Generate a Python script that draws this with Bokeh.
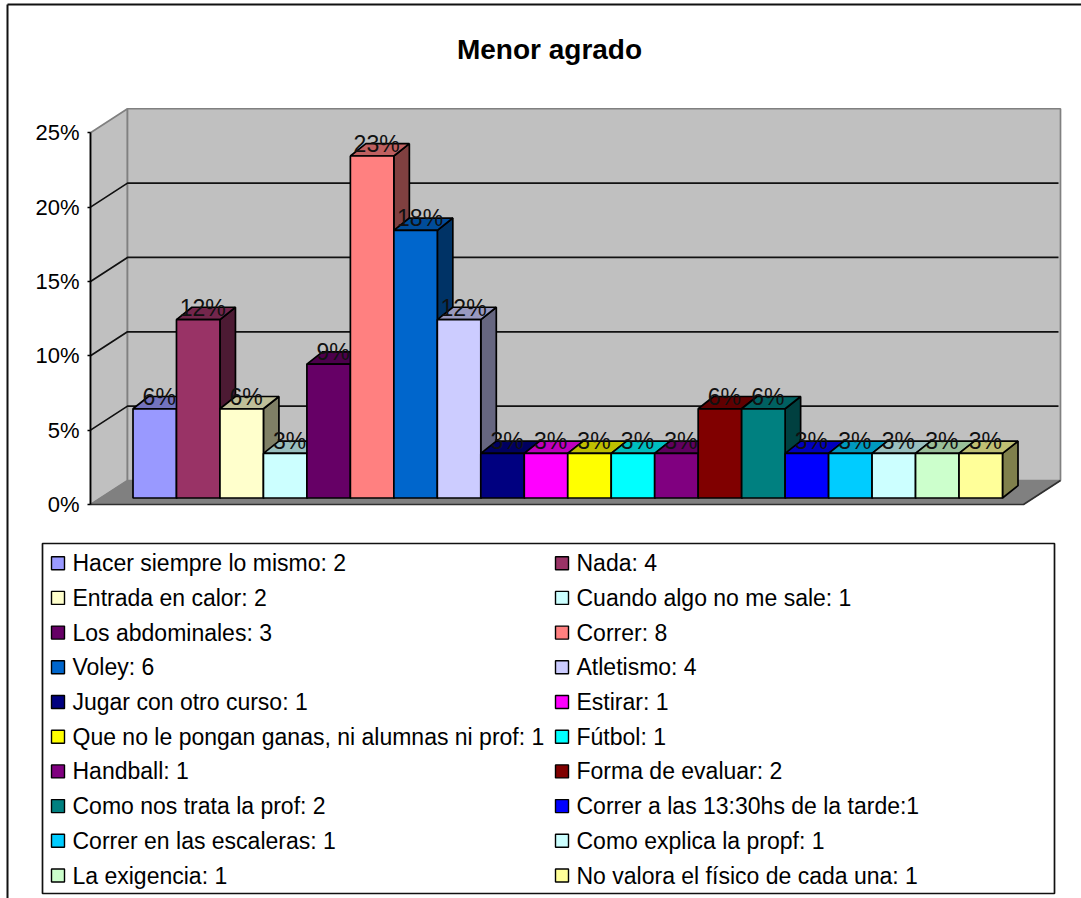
from bokeh.plotting import figure
from bokeh.models import Range1d, LinearAxis, FixedTicker, PrintfTickFormatter
from bokeh.core.properties import value
from bokeh.embed import file_html
from bokeh.resources import INLINE

title = "Menor agrado"
percent = [6, 12, 6, 3, 9, 23, 18, 12, 3, 3, 3, 3, 3, 6, 6, 3, 3, 3, 3, 3]
legend_labels = [
    "Hacer siempre lo mismo: 2", "Nada: 4",
    "Entrada en calor: 2", "Cuando algo no me sale: 1",
    "Los abdominales: 3", "Correr: 8",
    "Voley: 6", "Atletismo: 4",
    "Jugar con otro curso: 1", "Estirar: 1",
    "Que no le pongan ganas, ni alumnas ni prof: 1", "Fútbol: 1",
    "Handball: 1", "Forma de evaluar: 2",
    "Como nos trata la prof: 2", "Correr a las 13:30hs de la tarde:1",
    "Correr en las escaleras: 1", "Como explica la propf: 1",
    "La exigencia: 1", "No valora el físico de cada una: 1",
]
colors = [
    "#9999FF", "#993366", "#FFFFCC", "#CCFFFF", "#660066", "#FF8080", "#0066CC",
    "#CCCCFF", "#000080", "#FF00FF", "#FFFF00", "#00FFFF", "#800080", "#800000",
    "#008080", "#0000FF", "#00CCFF", "#CCFFFF", "#CCFFCC", "#FFFF99",
]
y_ticks = [0, 5, 10, 15, 20, 25]

W, H = 1081, 898
PAGE = 0
SLOT_PX = 43.475   # px per category
UNIT_PX = 14.87    # px per percentage point
BAR_X0, BAR_Y0 = 132.5, 497.5  # reference pixel position of the bars' origin
FONT = "Liberation Sans"
LW = 1.7


def X(px):
    return (px - BAR_X0) / SLOT_PX


def Y(py):
    return (BAR_Y0 - py) / UNIT_PX


def shade(col, f):
    r, g, b = (int(col[i:i + 2], 16) for i in (1, 3, 5))
    return "#%02X%02X%02X" % (round(r * f), round(g * f), round(b * f))


p = figure(width=W, height=H, output_backend="svg", toolbar_location=None,
           x_axis_type=None, y_axis_type=None,
           x_range=Range1d(X(PAGE), X(PAGE + W)),
           y_range=Range1d(Y(PAGE + H), Y(PAGE)),
           min_border=0, min_border_left=0, min_border_right=0,
           min_border_top=0, min_border_bottom=0)
p.outline_line_color = None
p.background_fill_color = "white"
p.border_fill_color = "white"

# front-of-chart value scale: zero sits on the floor's front edge
FRONT_Y0 = 504.0
p.extra_y_ranges = {"front": Range1d(Y(PAGE + H) - Y(FRONT_Y0), Y(PAGE) - Y(FRONT_Y0))}

# wall depth (in data units)
wall_dx = 37 / SLOT_PX
wall_dy = 24 / UNIT_PX
axis_x = X(90)
right_x = X(1023)
y0 = Y(FRONT_Y0)
top = y0 + y_ticks[-1]

# outer frame (top and left edges)
p.line([X(7), X(W)], [Y(4)] * 2, line_color="#111111", line_width=2)
p.line([X(7)] * 2, [Y(4), Y(H)], line_color="#111111", line_width=2)

# title
p.text([X(549)], [Y(49)], text=[title], text_font=value(FONT), text_font_style="bold",
       text_font_size="28px", text_align="center", text_baseline="middle", text_color="black")

# walls
p.patch([axis_x, axis_x + wall_dx, axis_x + wall_dx, axis_x],
        [y0, y0 + wall_dy, top + wall_dy, top],
        fill_color="#C0C0C0", line_color="#808080", line_width=1.7)
p.patch([axis_x + wall_dx, right_x + wall_dx, right_x + wall_dx, axis_x + wall_dx],
        [y0 + wall_dy, y0 + wall_dy, top + wall_dy, top + wall_dy],
        fill_color="#C0C0C0", line_color="#808080", line_width=1.7)
# floor
p.patch([axis_x, right_x, right_x + wall_dx, axis_x + wall_dx],
        [y0, y0, y0 + wall_dy, y0 + wall_dy],
        fill_color="#808080", line_color="#808080", line_width=1)
p.line([axis_x, right_x, right_x + wall_dx], [y0, y0, y0 + wall_dy],
       line_color="#303030", line_width=LW)

# gridlines
for t in y_ticks[1:-1]:
    yy = y0 + t
    p.line([axis_x, axis_x + wall_dx, right_x + wall_dx - 2 / SLOT_PX],
           [yy, yy + wall_dy, yy + wall_dy], line_color="#111111", line_width=LW)

# bars, left to right so each one covers its neighbour's side face
bar_dx = 15.5 / SLOT_PX
bar_dy = 12.3 / UNIT_PX
for i, (v, c) in enumerate(zip(percent, colors)):
    p.patch([i + 1, i + 1 + bar_dx, i + 1 + bar_dx, i + 1],
            [0, bar_dy, v + bar_dy, v],
            fill_color=shade(c, 0.5), line_color="black", line_width=LW)
    p.patch([i, i + bar_dx, i + 1 + bar_dx, i + 1],
            [v, v + bar_dy, v + bar_dy, v],
            fill_color=shade(c, 0.75), line_color="black", line_width=LW)
    p.quad(left=[i], right=[i + 1], bottom=[0], top=[v],
           fill_color=c, line_color="black", line_width=LW)

# data labels
label_dx = 4.5 / SLOT_PX
label_dy = 12 / UNIT_PX
p.text([i + 0.5 + label_dx for i in range(len(percent))],
       [v + label_dy for v in percent],
       text=["%d%%" % v for v in percent],
       text_font=value(FONT), text_font_size="23px", text_align="center",
       text_baseline="middle", text_color="#111111")

# value axis
ax = LinearAxis(y_range_name="front", fixed_location=axis_x, bounds=(0, 25),
                ticker=FixedTicker(ticks=y_ticks),
                formatter=PrintfTickFormatter(format="%d%%"))
ax.axis_line_color = "black"
ax.axis_line_width = LW
ax.major_tick_line_color = "black"
ax.major_tick_line_width = LW
ax.major_tick_in = 0
ax.major_tick_out = 3
ax.minor_tick_line_color = None
ax.major_label_standoff = 8
ax.major_label_text_font = FONT
ax.major_label_text_font_size = "22px"
ax.major_label_text_color = "black"
p.add_layout(ax, "left")

# legend box
lg_l, lg_r, lg_t, lg_b = X(42), X(1054), Y(543), Y(893)
p.quad(left=[lg_l], right=[lg_r], top=[lg_t], bottom=[lg_b],
       fill_color="white", line_color="#111111", line_width=LW)

first_row, row_step = 562.7, 34.7
col_swatch = (51, 555)
col_text = (72, 576)
swatch = 13
for i, (lab, c) in enumerate(zip(legend_labels, colors)):
    col = i % 2
    cy = first_row + (i // 2) * row_step
    sx = col_swatch[col]
    p.quad(left=[X(sx)], right=[X(sx + swatch)],
           top=[Y(cy - swatch / 2)], bottom=[Y(cy + swatch / 2)],
           fill_color=c, line_color="black", line_width=1.4)
    p.text([X(col_text[col])], [Y(cy)], text=[lab], text_font=value(FONT),
           text_font_size="23px", text_align="left", text_baseline="middle", text_color="black")

open("out.html", "w").write(file_html(p, INLINE))
